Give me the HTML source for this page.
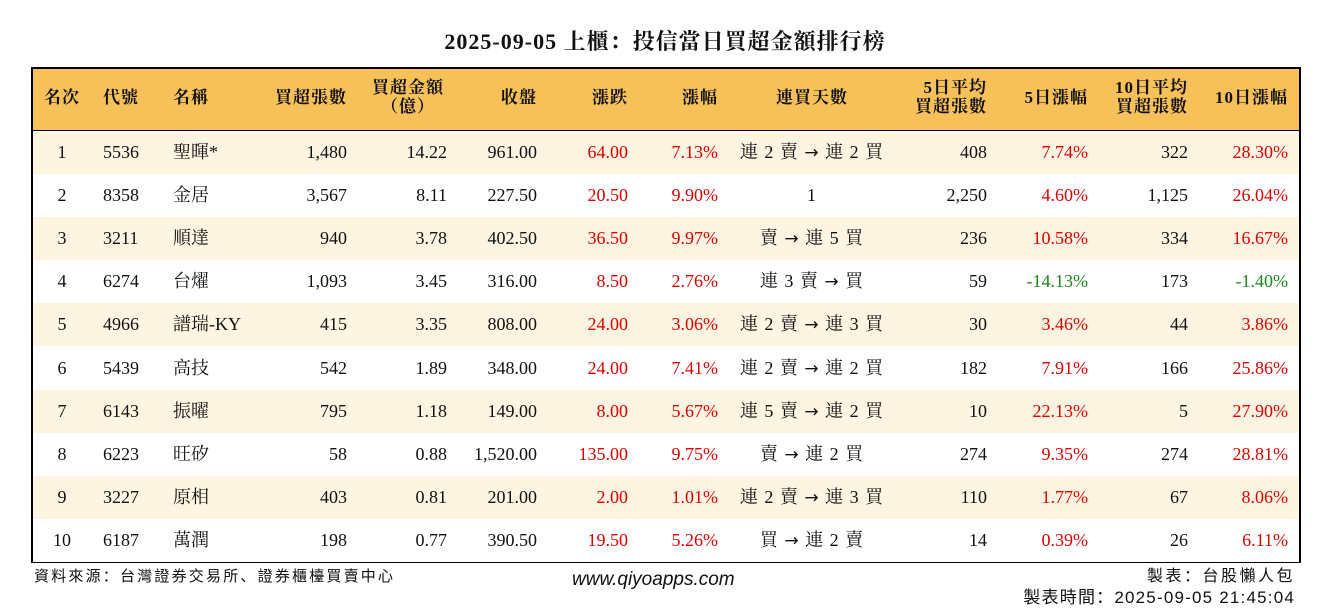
<!DOCTYPE html>
<html><head><meta charset="utf-8"><style>
body{margin:0;width:1330px;height:612px;background:#fff;position:relative;overflow:hidden;font-family:"Liberation Serif","Noto Serif CJK SC",serif;color:#111}
.a{position:absolute;white-space:nowrap;font-size:18px;line-height:20px}
.r{text-align:right}.c{text-align:center}
#tbl{position:absolute;left:31px;top:67px;width:1266px;height:492px;border:2px solid #000}
#hdr{position:absolute;left:0;top:0;width:1266px;height:61px;background:#f7c15a;border-bottom:3px solid #000}
.row{position:absolute;left:0;width:1266px;height:43px}
.red{color:#e00000}.grn{color:#1a8a1a}
.sans{font-family:"Liberation Sans","Noto Sans CJK SC",sans-serif}
.arr{font-family:"DejaVu Sans",sans-serif;font-size:17px}
</style></head><body>
<div class="a c" style="left:0;width:1330px;top:30px;font-size:22px;line-height:24px;letter-spacing:1px;font-weight:bold">2025-09-05 上櫃：投信當日買超金額排行榜</div>
<div id="tbl"><div id="hdr"></div></div>
<div class="a sans" style="left:34px;top:567px;font-size:15px;letter-spacing:2.2px">資料來源：台灣證券交易所、證券櫃檯買賣中心</div>
<div class="a sans" style="left:572px;top:570px;font-size:19px;font-style:italic">www.qiyoapps.com</div>
<div class="a sans r" style="right:35px;top:567px;font-size:16px;letter-spacing:2.5px">製表：台股懶人包</div>
<div class="a sans r" style="right:35px;top:588px;font-size:17px;letter-spacing:1.2px">製表時間：2025-09-05 21:45:04</div>
<script>
const ranks=[1,2,3,4,5,6,7,8,9,10];
const codes=["5536","8358","3211","6274","4966","5439","6143","6223","3227","6187"];
const names=["聖暉*","金居","順達","台燿","譜瑞-KY","高技","振曜","旺矽","原相","萬潤"];
const buyLots=["1,480","3,567","940","1,093","415","542","795","58","403","198"];
const buyAmt=["14.22","8.11","3.78","3.45","3.35","1.89","1.18","0.88","0.81","0.77"];
const closes=["961.00","227.50","402.50","316.00","808.00","348.00","149.00","1,520.00","201.00","390.50"];
const changes=["64.00","20.50","36.50","8.50","24.00","24.00","8.00","135.00","2.00","19.50"];
const pcts=["7.13%","9.90%","9.97%","2.76%","3.06%","7.41%","5.67%","9.75%","1.01%","5.26%"];
const streaks=["連 2 賣 → 連 2 買","1","賣 → 連 5 買","連 3 賣 → 買","連 2 賣 → 連 3 買","連 2 賣 → 連 2 買","連 5 賣 → 連 2 買","賣 → 連 2 買","連 2 賣 → 連 3 買","買 → 連 2 賣"];
const avg5=["408","2,250","236","59","30","182","10","274","110","14"];
const pct5=["7.74%","4.60%","10.58%","-14.13%","3.46%","7.91%","22.13%","9.35%","1.77%","0.39%"];
const avg10=["322","1,125","334","173","44","166","5","274","67","26"];
const pct10=["28.30%","26.04%","16.67%","-1.40%","3.86%","25.86%","27.90%","28.81%","8.06%","6.11%"];
const headers=["名次","代號","名稱","買超張數","買超金額<br>（億）","收盤","漲跌","漲幅","連買天數","5日平均<br>買超張數","5日漲幅","10日平均<br>買超張數","10日漲幅"];
const cols=[["c",62],["l",103],["l",173],["r",347],["r",447],["r",537],["r",628],["r",718],["c",812],["r",987],["r",1088],["r",1188],["r",1288]];
const hcols=[["c",62],["l",103],["l",173],["r",347],["c",408],["r",537],["r",628],["r",718],["c",812],["r",987],["r",1088],["r",1188],["r",1288]];
const hnames=["rank","code","name","buy-lots","buy-amount","close","change","change-pct","streak","avg5-lots","pct5","avg10-lots","pct10"];
function place(el,type,x){
  if(type==="l"){el.style.left=x+"px";}
  else if(type==="r"){el.style.right=(1330-x)+"px";el.style.textAlign="right";}
  else{el.style.left=(x-100)+"px";el.style.width="200px";el.style.textAlign="center";}
}
headers.forEach((h,i)=>{
  const d=document.createElement('div');
  d.className='a';d.innerHTML=h;
  const two=h.includes('<br>');
  d.style.top=(two?78:88)+"px";d.style.lineHeight="19px";d.style.fontSize="17px";d.style.letterSpacing="1px";d.style.fontWeight="bold";
  place(d,hcols[i][0],hcols[i][1]);
  
  
  document.body.appendChild(d);
});
const rowH=43.1, row0=131;
const tbl=document.getElementById('tbl');
ranks.forEach((r,k)=>{
  const bg=document.createElement('div');
  bg.className='row';
  bg.style.top=(row0-69+k*rowH)+"px";
  bg.style.background=k%2===0?"#fdf4e1":"#fff";
  
  
  tbl.appendChild(bg);
  const vals=[r,codes[k],names[k],buyLots[k],buyAmt[k],closes[k],changes[k],pcts[k],streaks[k],avg5[k],pct5[k],avg10[k],pct10[k]];
  vals.forEach((v,i)=>{
    const d=document.createElement('div');
    d.className='a';
    if(i===8){d.innerHTML=String(v).replace('→','<span class="arr">→</span>');d.style.letterSpacing="1px";}
    else d.textContent=v;
    d.style.top=(row0+k*rowH+11)+"px";
    place(d,cols[i][0],cols[i][1]);
    if(i===6||i===7) d.classList.add('red');
    if(i===10||i===12) d.classList.add(String(v).startsWith('-')?'grn':'red');
    
    
    document.body.appendChild(d);
  });
});
</script>
</body></html>
